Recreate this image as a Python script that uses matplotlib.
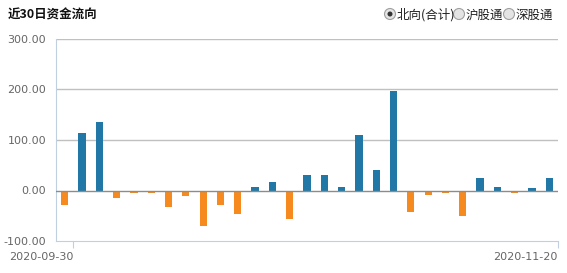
import matplotlib
matplotlib.use('Agg')
import matplotlib.pyplot as plt
from matplotlib.patches import Circle
import numpy as np

plt.rcParams['font.family'] = ['Noto Sans CJK SC', 'DejaVu Sans']

# Data (亿元)
flows = [-28, 113, 135, -15, -4, -4, -32, -10, -70, -28, -46, 7, 17, -56,
         31, 31, 6, 110, 41, 197, -42, -8, -4, -50, 25, 6, -4, 5, 25]
first_date = '2020-09-30'
last_date = '2020-11-20'
yticks = [-100, 0, 100, 200, 300]
title = '近30日资金流向'
options = ['北向(合计)', '沪股通', '深股通']

blue = '#2177a5'
orange = '#f68a1e'

fig = plt.figure(figsize=(5.67, 2.73), dpi=100)
ax = fig.add_axes([56/567, 1-241/273, 502/567, 202/273])

x = np.arange(len(flows))
colors = [blue if v >= 0 else orange for v in flows]
ax.bar(x, flows, width=0.42, color=colors, zorder=3)

ax.set_xlim(-0.5, len(flows) - 0.5)
ax.set_ylim(-100, 300)
ax.set_yticks(yticks)
ax.set_yticklabels([f'{v:.2f}' for v in yticks], color='#666666', fontsize=8,
                   family='DejaVu Sans')
ax.tick_params(axis='y', length=0, pad=7)

# Grid lines
for v in yticks[2:]:
    ax.axhline(v, color='#c0c0c0', linewidth=1, zorder=1)
ax.axhline(0, color='#8c8c8c', linewidth=1, zorder=4)

for s in ['top', 'right']:
    ax.spines[s].set_visible(False)
ax.spines['left'].set_color('#c0d0e0')
ax.spines['bottom'].set_color('#c0d0e0')

ax.set_xticks([0.5, len(flows) - 0.5])
ax.set_xticklabels([first_date, last_date], color='#666666', fontsize=8,
                   family='DejaVu Sans', ha='right')
ax.tick_params(axis='x', length=5, color='#c0d0e0', pad=3)

# Title and radio buttons in pixel coordinates
ov = fig.add_axes([0, 0, 1, 1], zorder=10)
ov.set_xlim(0, 567)
ov.set_ylim(273, 0)
ov.axis('off')
ov.patch.set_alpha(0)
ov.text(8, 15, title, fontsize=9, fontweight='bold', va='center', ha='left',
        color='#111111')

radio_x = [390, 459, 509]
for i, (rx, label) in enumerate(zip(radio_x, options)):
    ov.add_patch(Circle((rx, 14), 5.5, facecolor='#e4e4e4', edgecolor='#a0a0a0',
                        linewidth=0.8))
    if i == 0:
        ov.add_patch(Circle((rx, 14), 2.5, facecolor='#333333', edgecolor='none'))
    ov.text(rx + 7, 15, label, fontsize=9, va='center', ha='left', color='#222222')

fig.savefig('out.png', dpi=100)
